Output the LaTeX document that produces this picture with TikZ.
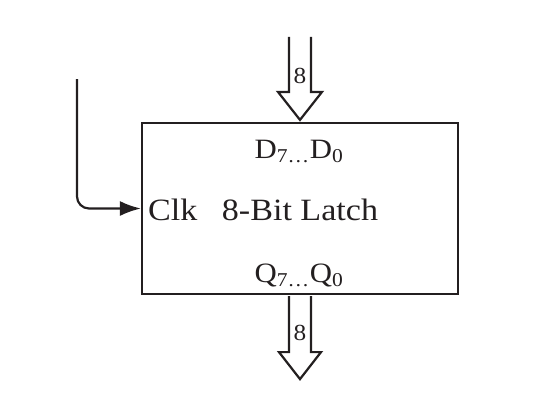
\documentclass[tikz,border=0pt]{standalone}
\usepackage{fontspec}
\setmainfont[FakeStretch=1.1]{Liberation Serif}
\usetikzlibrary{arrows.meta,calc}
\definecolor{ink}{RGB}{35,31,32}
\begin{document}
\begin{tikzpicture}[x=1pt,y=-1pt, color=ink,
  wire/.style={line width=2.2pt},
  busarrow/.style={line width=2.2pt, line join=miter},
  lbl/.style={font=\fontsize{31}{36}\selectfont, inner sep=0pt, anchor=base},
  sublbl/.style={font=\fontsize{28}{32}\selectfont, inner sep=0pt, anchor=base},
  buslbl/.style={font=\fontsize{23}{27}\selectfont, inner sep=0pt, anchor=base}]
\useasboundingbox (0,0) rectangle (547,400);
\node[draw, line width=2.2pt, minimum width=316pt, minimum height=171pt, inner sep=0pt] (latch) at (300,208.5) {};
% data in bus
\coordinate (dtip) at ($(latch.north)+(0,-2)$);
\draw[busarrow] ($(dtip)+(-11,-83)$) -- ++(0,55) -- ++(-11,0) -- (dtip) -- ++(22,-28) -- ++(-11,0) -- ++(0,-55);
\node[buslbl] (nin) at (300,83) {8};
% data out bus
\coordinate (qtop) at ($(latch.south)+(0,1)$);
\draw[busarrow] ($(qtop)+(-11,0)$) -- ++(0,56) -- ++(-10,0) -- ++(21,27) -- ++(21,-27) -- ++(-10,0) -- ++(0,-56);
\node[buslbl] (nout) at (300,340) {8};
% clock
\coordinate (clkin) at (77,79);
\draw[wire, rounded corners=12pt, -{Latex[length=21pt,width=15pt]}] (clkin) |- (latch.west);
% labels
\node[lbl, anchor=base west] (clk) at (148,220) {Clk};
\node[lbl] (title) at (300,220) {8-Bit Latch};
\node[sublbl] (dlbl) at (299,158) {D\textsubscript{7\ldots}D\textsubscript{0}};
\node[sublbl] (qlbl) at (299,282) {Q\textsubscript{7\ldots}Q\textsubscript{0}};
\end{tikzpicture}
\end{document}
